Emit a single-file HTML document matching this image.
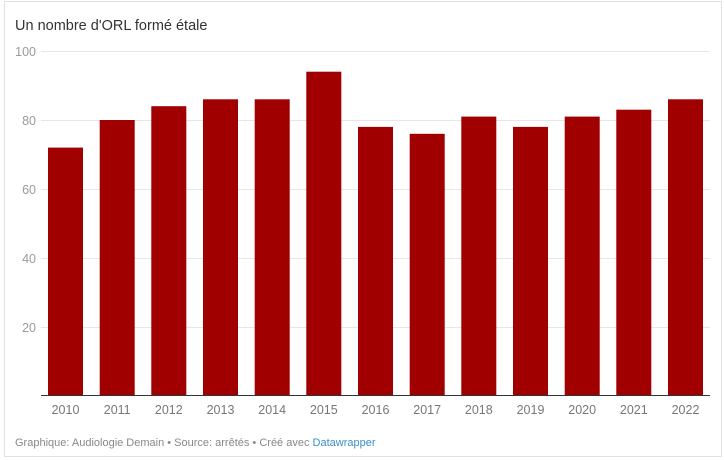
<!DOCTYPE html>
<html><head><meta charset="utf-8"><style>
html,body{margin:0;padding:0;background:#fff;}
body{width:724px;height:460px;position:relative;overflow:hidden;font-family:"Liberation Sans",Arial,sans-serif;}
.frame{position:absolute;left:4px;top:1px;width:718px;height:456px;border:1px solid #e2e2e2;box-sizing:border-box;}
</style></head><body>
<div class="frame"></div>
<svg width="724" height="460" style="position:absolute;left:0;top:0" font-family="Liberation Sans, Arial, sans-serif">
<text x="15" y="30" font-size="14.5" fill="#333">Un nombre d'ORL formé étale</text>
<g stroke="#e6e6e6" stroke-width="1">
<line x1="41" x2="710" y1="51.5" y2="51.5"/>
<line x1="41" x2="710" y1="120.5" y2="120.5"/>
<line x1="41" x2="710" y1="189.5" y2="189.5"/>
<line x1="41" x2="710" y1="258.5" y2="258.5"/>
<line x1="41" x2="710" y1="327.5" y2="327.5"/>
</g>
<g font-size="12.5" fill="#9a9a9a" text-anchor="end">
<text x="36" y="56">100</text>
<text x="36" y="125">80</text>
<text x="36" y="194">60</text>
<text x="36" y="263">40</text>
<text x="36" y="332">20</text>
</g>
<g fill="#a00000">
<rect x="48" y="147.6" width="35" height="248.4"/>
<rect x="99.7" y="120" width="35" height="276"/>
<rect x="151.3" y="106.2" width="35" height="289.8"/>
<rect x="203" y="99.3" width="35" height="296.7"/>
<rect x="254.7" y="99.3" width="35" height="296.7"/>
<rect x="306.3" y="71.7" width="35" height="324.3"/>
<rect x="358" y="126.9" width="35" height="269.1"/>
<rect x="409.7" y="133.8" width="35" height="262.2"/>
<rect x="461.3" y="116.6" width="35" height="279.4"/>
<rect x="513" y="126.9" width="35" height="269.1"/>
<rect x="564.7" y="116.6" width="35" height="279.4"/>
<rect x="616.3" y="109.7" width="35" height="286.3"/>
<rect x="668" y="99.3" width="35" height="296.7"/>
</g>
<line x1="41" x2="710" y1="395.5" y2="395.5" stroke="#333" stroke-width="1"/>
<g font-size="12.5" fill="#777" text-anchor="middle">
<text x="65.5" y="414">2010</text>
<text x="117.2" y="414">2011</text>
<text x="168.8" y="414">2012</text>
<text x="220.5" y="414">2013</text>
<text x="272.2" y="414">2014</text>
<text x="323.8" y="414">2015</text>
<text x="375.5" y="414">2016</text>
<text x="427.2" y="414">2017</text>
<text x="478.8" y="414">2018</text>
<text x="530.5" y="414">2019</text>
<text x="582.2" y="414">2020</text>
<text x="633.8" y="414">2021</text>
<text x="685.5" y="414">2022</text>
</g>
<text x="15" y="446" font-size="11" fill="#888">Graphique: Audiologie Demain • Source: arrêtés • Créé avec <tspan fill="#3a8fc7">Datawrapper</tspan></text>
</svg>
</body></html>
